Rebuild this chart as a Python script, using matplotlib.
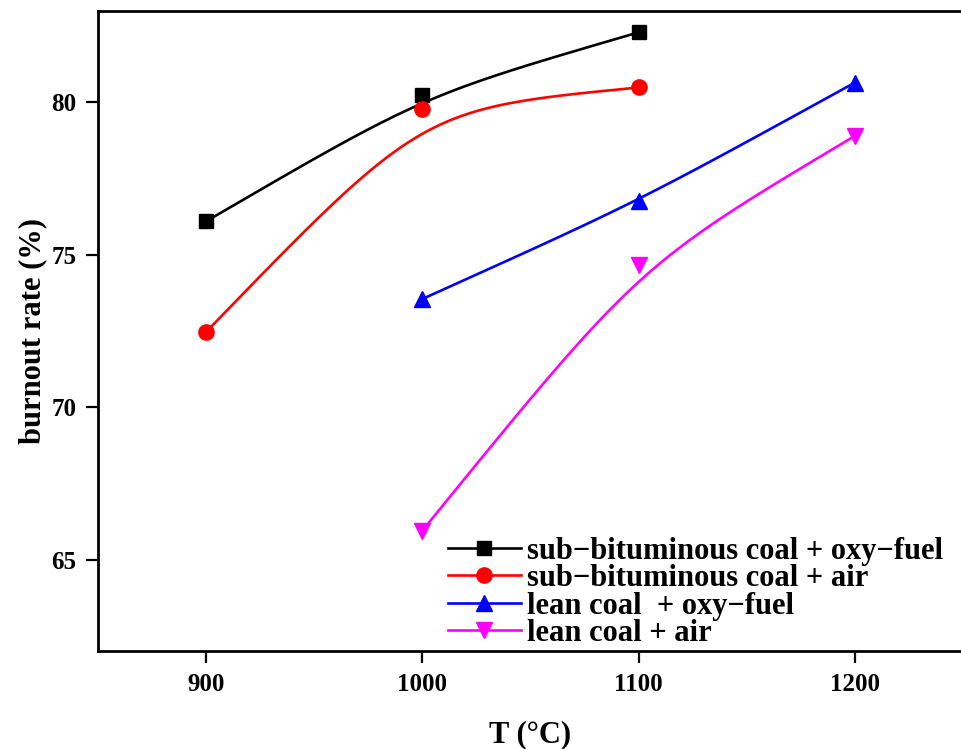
import numpy as np
import matplotlib
matplotlib.use("Agg")
import matplotlib.pyplot as plt

plt.rcParams['font.family'] = ['Liberation Serif', 'DejaVu Serif']
plt.rcParams['font.weight'] = 'bold'

# Burnout rate (%) versus furnace temperature (°C)
t_sub = [900, 1000, 1100]
t_lean = [1000, 1100, 1200]
sub_oxy = [76.1, 80.23, 82.3]
sub_air = [72.47, 79.8, 80.49]
lean_oxy = [73.55, 76.75, 80.65]
lean_air = [65.95, 74.67, 78.9]

labels = ["sub\u2212bituminous coal + oxy\u2212fuel",
          "sub\u2212bituminous coal + air",
          "lean coal  + oxy\u2212fuel",
          "lean coal + air"]
colors = ["black", "red", "blue", "magenta"]
markers = ["s", "o", "^", "v"]


def bspline_curve(x, y, n=200):
    """Smooth cubic Bezier using the middle sample as a double control point."""
    x = np.asarray(x, float)
    y = np.asarray(y, float)
    t = np.linspace(0, 1, n)
    c = [(1 - t) ** 3, 3 * t * (1 - t) ** 2, 3 * t ** 2 * (1 - t), t ** 3]
    px = [x[0], x[1], x[1], x[2]]
    py = [y[0], y[1], y[1], y[2]]
    return sum(ci * p for ci, p in zip(c, px)), sum(ci * p for ci, p in zip(c, py))


fig = plt.figure(figsize=(9.61, 7.49), dpi=100)
ax = fig.add_axes([98 / 961, 1 - 651 / 749, 865 / 961, 640 / 749])

series = [(t_sub, sub_oxy), (t_sub, sub_air), (t_lean, lean_oxy), (t_lean, lean_air)]
for (xs, ys), lab, c, m in zip(series, labels, colors, markers):
    ms = 10 if m == 's' else 11
    cx, cy = bspline_curve(xs, ys)
    ax.plot(cx, cy, color=c, lw=1.9, zorder=2)
    ax.plot(xs, ys, linestyle='none', marker=m, color=c, ms=ms, zorder=3)
    ax.plot([], [], color=c, lw=1.9, marker=m, ms=ms, label=lab)

ax.set_xlim(850, 1250)
ax.set_ylim(62, 83)
ax.set_xticks([900, 1000, 1100, 1200])
ax.set_yticks([65, 70, 75, 80])

for s in ax.spines.values():
    s.set_linewidth(2.0)

ax.tick_params(axis='both', which='both', direction='out', length=8.5, width=1.6,
               labelsize=18, pad=7, top=False, right=False)
for lbl in ax.get_xticklabels() + ax.get_yticklabels():
    lbl.set_fontweight('bold')

ax.set_xlabel("T (°C)", fontsize=22, fontweight='bold', labelpad=18)
ax.set_ylabel("burnout rate (%)", fontsize=22, fontweight='bold', labelpad=3)

ax.legend(loc='lower right', bbox_to_anchor=(0.984, -0.005), frameon=False,
          handlelength=2.4, handletextpad=0.2, labelspacing=-0.05,
          borderaxespad=0.0, borderpad=0.2,
          prop={'weight': 'bold', 'size': 22})

fig.savefig("out.png", dpi=100)
